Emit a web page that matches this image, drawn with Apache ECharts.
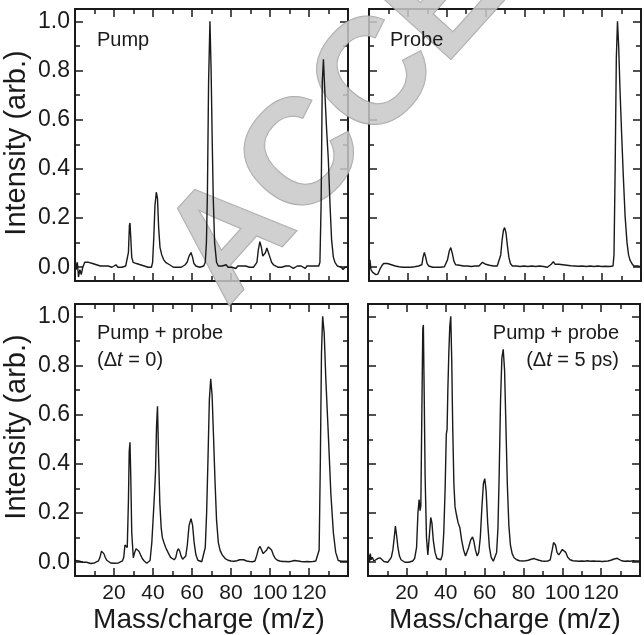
<!DOCTYPE html>
<html>
<head>
<meta charset="utf-8">
<script src="https://cdn.jsdelivr.net/npm/echarts@6/dist/echarts.min.js"></script>
<style>
html,body{margin:0;padding:0;background:#fff;}
#chart{width:644px;height:635px;}
</style>
</head>
<body>
<div id="chart"></div>
<script>
// ---------- data ----------
const panelTitles = ['Pump', 'Probe', 'Pump + probe', 'Pump + probe'];
const xAxisName = 'Mass/charge (m/z)';
const yAxisName = 'Intensity (arb.)';
const yMajorTicks = [0, 0.2, 0.4, 0.6, 0.8, 1.0];
const yMinorTicks = [0.1, 0.3, 0.5, 0.7, 0.9];

const pump = [[0,0.04],[0.6,-0.01],[1.2,0.02],[1.8,-0.04],[2.5,-0.01],[3.2,-0.03],[4,0.0],[5,0.02],[6,0.025],[7,0.02],[8,0.025],[9,0.015],[10,0.02],[11,0.01],[12,0.015],[13,0.005],[14,0.01],[15,0.005],[16,0.0],[17,0.005],[18,0.0],[19,0.0],[20,0.005],[21,0.01],[22,0.0],[23,0.005],[24,0.0],[25,0.005],[26,0.005],[26.8,0.01],[27.4,0.06],[27.9,0.17],[28.2,0.18],[28.6,0.12],[29.1,0.04],[29.8,0.02],[30.5,0.025],[31.5,0.015],[32.5,0.02],[33.5,0.01],[34.5,0.015],[35.5,0.005],[36.5,0.01],[37.5,0.0],[38.5,0.005],[39.2,0.0],[39.8,0.02],[40.4,0.12],[41,0.25],[41.7,0.305],[42.3,0.28],[42.9,0.16],[43.6,0.08],[44.5,0.05],[45.5,0.03],[46.5,0.02],[47.5,0.025],[48.5,0.01],[49.5,0.015],[50.5,0.0],[51.5,0.005],[52.5,0.0],[53.5,0.005],[54.5,0.0],[55.5,0.005],[56.5,0.01],[57.5,0.02],[58.5,0.045],[59.5,0.06],[60.3,0.04],[61,0.015],[62,0.005],[63,0.0],[64,0.0],[65,0.005],[66,0.005],[66.8,0.02],[67.4,0.1],[67.9,0.3],[68.5,0.75],[69.2,1.0],[69.8,0.8],[70.4,0.5],[70.9,0.28],[71.6,0.1],[72.6,0.02],[73.5,0.005],[74.5,0.0],[75.5,0.005],[76.5,0.0],[77.5,0.01],[78.5,0.0],[79.5,0.005],[80.5,0.0],[81.5,0.005],[82.5,-0.005],[83.5,0.005],[84.5,0.0],[85.5,0.005],[86.5,0.0],[87.5,0.005],[88.5,0.0],[89.5,0.0],[90.5,0.005],[91.5,0.0],[92.5,0.005],[93.3,0.02],[94,0.07],[94.8,0.104],[95.6,0.08],[96.3,0.045],[97,0.04],[97.7,0.06],[98.4,0.078],[99.2,0.07],[100,0.04],[100.8,0.02],[101.8,0.01],[102.8,0.005],[104,0.0],[105,0.005],[106,0.0],[107,-0.005],[108,0.005],[109,0.0],[110,0.005],[111,0.0],[112,-0.005],[113,0.0],[114,0.005],[115,0.0],[116,0.005],[117,0.0],[118,-0.005],[119,0.005],[120,0.0],[121,0.005],[122,0.0],[123,0.005],[124,0.0],[125,0.005],[125.6,0.02],[126.2,0.25],[126.8,0.75],[127.4,0.846],[128.3,0.68],[129.1,0.55],[129.9,0.44],[130.8,0.25],[131.6,0.11],[132.5,0.04],[133.3,0.02],[134.5,0.005],[135.5,0.005],[136.5,0.0],[137.5,-0.01],[138.5,0.0],[139.5,-0.005],[140,0.0]];

const probe = [[0,0.02],[0.5,0.03],[1,-0.01],[1.8,-0.02],[2.6,-0.015],[3.5,-0.03],[4.6,-0.028],[5.5,-0.01],[6.5,0.005],[7.5,0.015],[8.5,0.012],[9.5,0.015],[10.5,0.012],[11.5,0.01],[12.5,0.012],[13.5,0.005],[14.5,0.008],[15.5,0.002],[16.5,0.005],[17.5,0.0],[18.5,0.005],[19.5,0.0],[20.5,0.003],[21.5,0.0],[22.5,0.005],[23.5,0.002],[24.5,0.0],[25.5,0.005],[26.5,0.0],[27.2,0.01],[27.8,0.04],[28.5,0.06],[29.2,0.04],[29.9,0.015],[30.8,0.005],[31.8,0.008],[32.8,0.0],[33.8,0.005],[34.8,0.0],[35.8,0.003],[36.8,0.0],[37.8,0.005],[38.8,0.002],[39.6,0.01],[40.4,0.03],[41.3,0.065],[42.1,0.08],[42.9,0.055],[43.7,0.025],[44.6,0.01],[45.6,0.005],[46.6,0.008],[47.6,0.002],[48.6,0.005],[49.6,0.0],[50.6,0.005],[51.6,0.0],[52.6,0.003],[53.6,0.0],[54.6,0.005],[55.6,0.003],[56.6,0.005],[57.5,0.01],[58.4,0.02],[59.2,0.022],[60.1,0.012],[61,0.005],[62,0.008],[63,0.002],[64,0.005],[65,0.0],[66,0.005],[67,0.012],[67.8,0.05],[68.5,0.11],[69.2,0.15],[69.8,0.161],[70.5,0.14],[71.2,0.09],[72,0.04],[72.8,0.015],[73.8,0.005],[74.8,0.0],[75.8,0.005],[76.8,0.0],[77.8,0.003],[78.8,0.0],[79.8,0.005],[80.8,0.0],[81.8,0.003],[82.8,0.0],[83.8,0.005],[84.8,0.0],[85.8,0.003],[86.8,0.0],[87.8,0.005],[88.8,0.0],[89.8,0.003],[90.8,0.005],[91.8,0.0],[92.8,0.005],[93.8,0.012],[94.9,0.023],[95.8,0.012],[96.8,0.008],[97.8,0.012],[98.8,0.008],[99.8,0.01],[100.8,0.005],[101.8,0.008],[102.8,0.003],[103.8,0.006],[104.8,0.002],[105.8,0.005],[106.8,0.0],[107.8,0.004],[108.8,0.0],[109.8,0.005],[110.8,0.0],[111.8,0.003],[112.8,0.0],[113.8,0.005],[114.8,0.0],[115.8,0.003],[116.8,0.0],[117.8,0.005],[118.8,0.0],[119.8,0.003],[120.8,0.0],[121.8,0.004],[122.8,0.0],[123.8,0.003],[124.8,0.0],[125.6,0.005],[126.1,0.05],[126.7,0.4],[127.3,0.85],[127.9,1.0],[128.5,0.9],[129.2,0.72],[130,0.55],[130.9,0.37],[131.8,0.21],[132.8,0.1],[133.6,0.05],[134.3,0.03],[135.3,0.015],[136.3,0.005],[137.3,0.0],[138.3,0.005],[139.2,0.0],[140,0.002]];

const pumpProbe0 = [[0,0.007],[1,0.0],[2,0.005],[3,-0.003],[4,0.0],[5,-0.004],[6,0.0],[7,-0.004],[8,-0.005],[9,-0.004],[10,-0.003],[11,0.0],[12,0.005],[12.8,0.02],[13.6,0.045],[14.2,0.05],[14.8,0.035],[15.5,0.02],[16.3,0.008],[17.3,0.0],[18.3,-0.003],[19.3,-0.002],[20.3,-0.004],[21.3,-0.002],[22.3,-0.003],[23.3,0.0],[24.3,0.005],[25,0.02],[25.6,0.07],[26.2,0.075],[26.8,0.06],[27.4,0.25],[27.8,0.45],[28.2,0.488],[28.6,0.35],[29.1,0.12],[29.9,0.018],[30.6,0.04],[31.3,0.055],[32.1,0.057],[32.8,0.045],[33.6,0.03],[34.5,0.015],[35.5,0.005],[36.8,-0.004],[37.8,0.0],[38.5,0.007],[39.4,0.08],[40.3,0.21],[40.9,0.3],[41.3,0.37],[41.8,0.55],[42.3,0.634],[42.9,0.42],[43.5,0.24],[44.2,0.14],[44.8,0.1],[45.6,0.08],[46.5,0.06],[47.7,0.04],[49,0.02],[50,0.012],[50.9,0.01],[51.7,0.02],[52.4,0.045],[53,0.055],[53.7,0.045],[54.4,0.025],[55.2,0.012],[56,0.01],[56.8,0.025],[57.6,0.07],[58.5,0.15],[59.5,0.177],[60.3,0.15],[61.1,0.08],[62,0.03],[63,0.008],[64,0.0],[65,0.002],[66,0.01],[66.8,0.06],[67.5,0.2],[68.2,0.42],[68.9,0.66],[69.6,0.746],[70.3,0.68],[71,0.52],[71.8,0.33],[72.6,0.17],[73.5,0.08],[74.4,0.048],[75.5,0.03],[77,0.015],[78.5,0.008],[80,0.005],[81.5,0.004],[83,0.006],[84.5,0.01],[85.5,0.012],[86.5,0.01],[88,0.005],[89.5,0.003],[91,0.002],[92.3,0.005],[93.3,0.03],[94.1,0.055],[94.9,0.064],[95.7,0.05],[96.5,0.035],[97.4,0.03],[98.3,0.05],[99.2,0.062],[100,0.064],[100.8,0.05],[101.7,0.03],[102.7,0.015],[103.8,0.008],[105,0.005],[106.5,0.003],[108,0.003],[109.5,0.002],[111,0.004],[112.5,0.007],[113.5,0.008],[114.5,0.005],[116,0.003],[117.5,0.002],[119,0.003],[120.5,0.002],[122,0.003],[123.5,0.005],[124.5,0.008],[125.2,0.05],[125.8,0.4],[126.4,0.85],[127,1.0],[127.8,0.93],[128.6,0.75],[129.9,0.52],[131.2,0.28],[132.5,0.12],[133.7,0.04],[135,0.007],[136.5,0.004],[138,0.004],[140,0.004]];

const pumpProbe5 = [[0,0.01],[0.4,0.03],[0.8,0.0],[1.2,0.035],[1.6,0.01],[2.2,0.02],[3,0.005],[4,0.008],[5,0.015],[6.2,0.018],[7.2,0.01],[8.2,0.003],[9.2,0.0],[10.2,0.0],[11,0.005],[12,0.02],[12.8,0.05],[13.5,0.1],[14.1,0.147],[14.7,0.11],[15.4,0.06],[16.2,0.025],[17,0.01],[18,0.002],[19,0.0],[20,0.0],[21,0.0],[22,0.002],[23,0.005],[24,0.015],[25,0.06],[25.7,0.2],[26.3,0.255],[26.8,0.21],[27.2,0.23],[27.7,0.6],[28.2,0.95],[28.5,0.965],[28.9,0.7],[29.4,0.35],[30.1,0.1],[30.8,0.03],[31.5,0.1],[32.3,0.182],[32.9,0.16],[33.6,0.09],[34.5,0.04],[35.5,0.015],[36.5,0.008],[37.5,0.01],[38.3,0.03],[39,0.12],[39.7,0.3],[40.3,0.52],[40.7,0.54],[41.1,0.7],[41.6,0.85],[42.1,0.96],[42.6,1.0],[43.1,0.82],[43.6,0.55],[44.2,0.32],[44.8,0.225],[45.6,0.19],[46.4,0.16],[47.3,0.14],[48.2,0.09],[49.2,0.05],[50.2,0.025],[51,0.03],[51.8,0.06],[52.8,0.09],[53.8,0.103],[54.5,0.085],[55.3,0.05],[56.2,0.025],[57,0.04],[57.8,0.1],[58.6,0.22],[59.4,0.32],[60.1,0.34],[60.8,0.29],[61.6,0.16],[62.5,0.06],[63.4,0.02],[64.5,0.004],[65.4,0.008],[66.2,0.04],[66.9,0.14],[67.5,0.35],[68.2,0.65],[68.9,0.83],[69.6,0.866],[70.3,0.78],[71,0.55],[71.7,0.32],[72.5,0.15],[73.3,0.07],[74.2,0.035],[75.2,0.018],[76.5,0.01],[78,0.006],[79.5,0.005],[81,0.006],[82.5,0.008],[84,0.012],[85.5,0.015],[86.5,0.014],[88,0.008],[89.5,0.005],[91,0.004],[92.5,0.005],[93.8,0.01],[94.8,0.05],[95.5,0.08],[95.9,0.087],[96.5,0.07],[97.3,0.04],[98.2,0.03],[99.1,0.04],[100,0.052],[100.9,0.056],[101.8,0.04],[102.8,0.02],[104,0.01],[105.5,0.006],[107,0.005],[108.5,0.004],[110,0.005],[111.5,0.004],[113,0.006],[114.5,0.004],[116,0.005],[117.5,0.004],[119,0.004],[120.5,0.003],[122,0.004],[123.5,0.005],[125,0.008],[126.3,0.012],[127.3,0.016],[128.3,0.016],[129.3,0.012],[130.5,0.006],[132,0.004],[133.5,0.005],[135,0.004],[136.5,0.006],[138,0.005],[140,0.005]];

const spectra = [pump, probe, pumpProbe0, pumpProbe5];

// ---------- layout ----------
const FONT = '"Liberation Sans", Arial, sans-serif';
const INK = '#1a1a1a';
const grids = [
  {left: 75, top: 9, width: 273, height: 272},
  {left: 369, top: 9, width: 272, height: 272},
  {left: 75, top: 304, width: 273, height: 272},
  {left: 368, top: 304, width: 272, height: 272}
];
const axisLine = {show: true, onZero: false, lineStyle: {color: INK, width: 2}};
const xAxes = [], yAxes = [], series = [];
grids.forEach((g, i) => {
  const showX = i >= 2, showY = i % 2 === 0;
  ['bottom', 'top'].forEach(pos => {
    xAxes.push({
      type: 'value', gridIndex: i, position: pos, min: 0, max: 140, interval: 20,
      axisLine: axisLine,
      axisTick: {show: true, inside: true, length: 8, lineStyle: {color: INK, width: 1.5}},
      minorTick: {show: true, splitNumber: 2, length: 5, lineStyle: {color: INK, width: 1.5}},
      splitLine: {show: false}, minorSplitLine: {show: false},
      axisLabel: {show: showX && pos === 'bottom', showMinLabel: false, showMaxLabel: false,
        fontSize: 21, color: INK, fontFamily: FONT, margin: 7}
    });
  });
  [['left', yMajorTicks, 8, true], ['right', yMajorTicks, 8, false],
   ['left', yMinorTicks, 5, false], ['right', yMinorTicks, 5, false]].forEach(([pos, vals, len, lab]) => {
    yAxes.push({
      type: 'value', gridIndex: i, position: pos, min: -0.056, max: 1.05,
      axisLine: axisLine,
      axisTick: {show: true, inside: true, length: len, customValues: vals, lineStyle: {color: INK, width: 1.5}},
      splitLine: {show: false},
      axisLabel: {show: lab && showY, customValues: vals, formatter: v => v.toFixed(1),
        fontSize: 23, color: INK, fontFamily: FONT, margin: 5}
    });
  });
  series.push({
    type: 'line', xAxisIndex: 2 * i, yAxisIndex: 4 * i, data: spectra[i],
    showSymbol: false, smooth: false, z: 5,
    lineStyle: {color: INK, width: 1.4}
  });
});

const txt = (x, y, text, opts) => Object.assign({
  type: 'text', x: x, y: y, z: 10,
  style: Object.assign({text: text, fill: INK, font: '20px ' + FONT, textVerticalAlign: 'middle'}, opts || {})
});

const rich = {i: {fontStyle: 'italic', fontSize: 20, fontFamily: FONT, fill: INK}};

const graphic = [
  // watermark
  {type: 'text', x: 472, y: -26, rotation: 0.838, z: 1,
   style: {text: 'ACCEPTED', font: 'bold 150px ' + FONT, fill: '#c8c8c8', stroke: '#9a9a9a', lineWidth: 1.5,
     textAlign: 'center', textVerticalAlign: 'middle', opacity: 0.85,
     shadowColor: 'rgba(0,0,0,0.35)', shadowBlur: 6, shadowOffsetX: 3, shadowOffsetY: 3}},
  txt(97, 40, panelTitles[0]),
  txt(390, 40, panelTitles[1]),
  txt(97, 333, panelTitles[2]),
  txt(97, 360, '(Δ{i|t} = 0)', {rich: rich}),
  txt(619, 333, panelTitles[3], {textAlign: 'right'}),
  txt(619, 360, '(Δ{i|t} = 5 ps)', {textAlign: 'right', rich: rich}),
  txt(17, 143, yAxisName, {font: '29px ' + FONT, textAlign: 'center'}),
  txt(17, 427, yAxisName, {font: '29px ' + FONT, textAlign: 'center'}),
  txt(209, 620, xAxisName, {font: '28px ' + FONT, textAlign: 'center'}),
  txt(505, 620, xAxisName, {font: '28px ' + FONT, textAlign: 'center'})
];
graphic[7].rotation = Math.PI / 2;
graphic[8].rotation = Math.PI / 2;

const chart = echarts.init(document.getElementById('chart'), null, {renderer: 'canvas'});
chart.setOption({
  animation: false,
  backgroundColor: '#fff',
  grid: grids,
  xAxis: xAxes,
  yAxis: yAxes,
  series: series,
  graphic: graphic
});
</script>
</body>
</html>
